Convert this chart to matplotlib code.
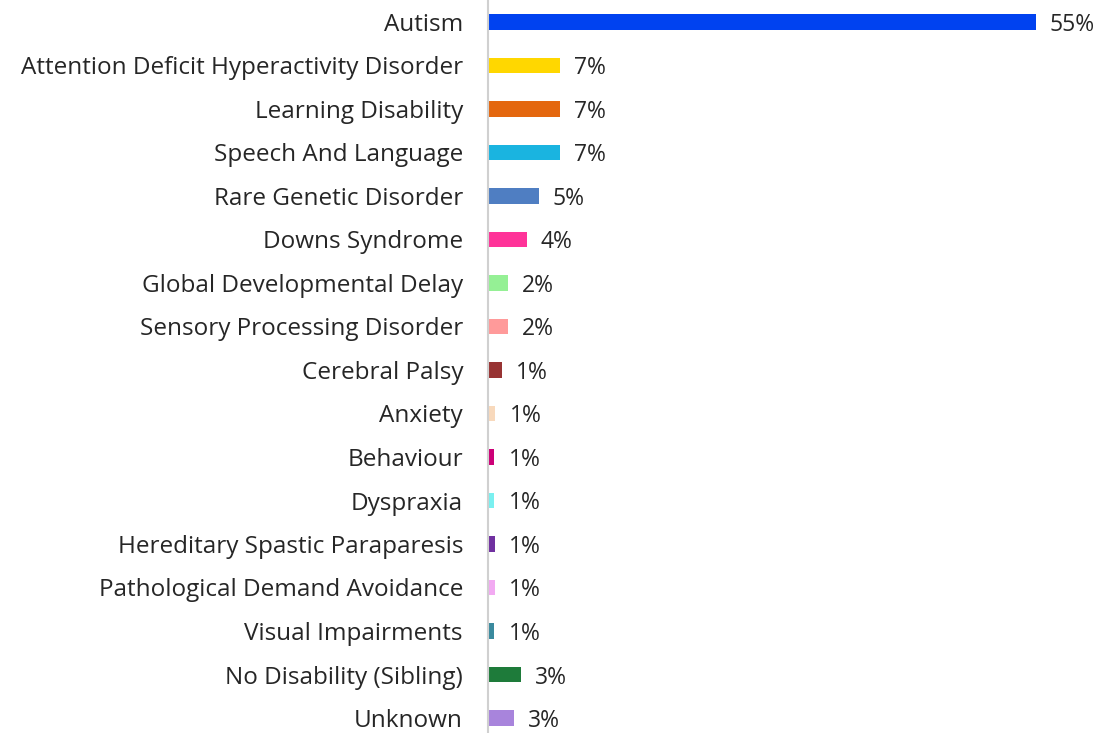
import matplotlib
matplotlib.use("Agg")
import matplotlib.pyplot as plt

categories = ["Autism", "Attention Deficit Hyperactivity Disorder", "Learning Disability",
              "Speech And Language", "Rare Genetic Disorder", "Downs Syndrome",
              "Global Developmental Delay", "Sensory Processing Disorder", "Cerebral Palsy",
              "Anxiety", "Behaviour", "Dyspraxia", "Hereditary Spastic Paraparesis",
              "Pathological Demand Avoidance", "Visual Impairments", "No Disability (Sibling)",
              "Unknown"]
values = [55.0, 7.2, 7.2, 7.2, 5.1, 3.9, 2.0, 2.0, 1.4, 0.75, 0.65, 0.65, 0.7, 0.7, 0.65, 3.3, 2.6]
value_labels = ["55%", "7%", "7%", "7%", "5%", "4%", "2%", "2%", "1%", "1%", "1%", "1%",
                "1%", "1%", "1%", "3%", "3%"]
colors = ["#0042F0", "#FFD700", "#E4670E", "#1AB4E0", "#4F7EC2", "#FF3399", "#95F095",
          "#FF9A9A", "#983333", "#F8D9BC", "#CC0077", "#7AF0F0", "#7030A0", "#F2AAF2",
          "#3A8A9E", "#1E7B3A", "#A884DC"]

fig = plt.figure(figsize=(10.97, 7.33), dpi=100)
ax = fig.add_axes([488/1097, 0, 1 - 488/1097, 1])
y = list(range(len(categories)))
ax.barh(y, values, height=0.36, color=colors)
ax.set_xlim(0, (1097 - 488) / 9.96)
ax.set_ylim(16 + 15/43.5, -22/43.5)
ax.set_yticks(y)
ax.set_yticklabels(categories, fontsize=17.5, color="#262626", family="Open Sans")
for t in ax.get_yticklabels():
    t.set_verticalalignment("center_baseline")
ax.tick_params(axis="y", length=0, pad=18)
ax.set_xticks([])
for s in ["top", "right", "bottom"]:
    ax.spines[s].set_visible(False)
ax.spines["left"].set_color("#D0D0D0")
ax.spines["left"].set_linewidth(1.5)
for yi, v, lab in zip(y, values, value_labels):
    ax.annotate(lab, (v, yi), xytext=(14, 0), textcoords="offset pixels",
                va="center_baseline", ha="left", fontsize=16.5, color="#262626",
                family="Open Sans")
fig.savefig("out.png", dpi=100)
